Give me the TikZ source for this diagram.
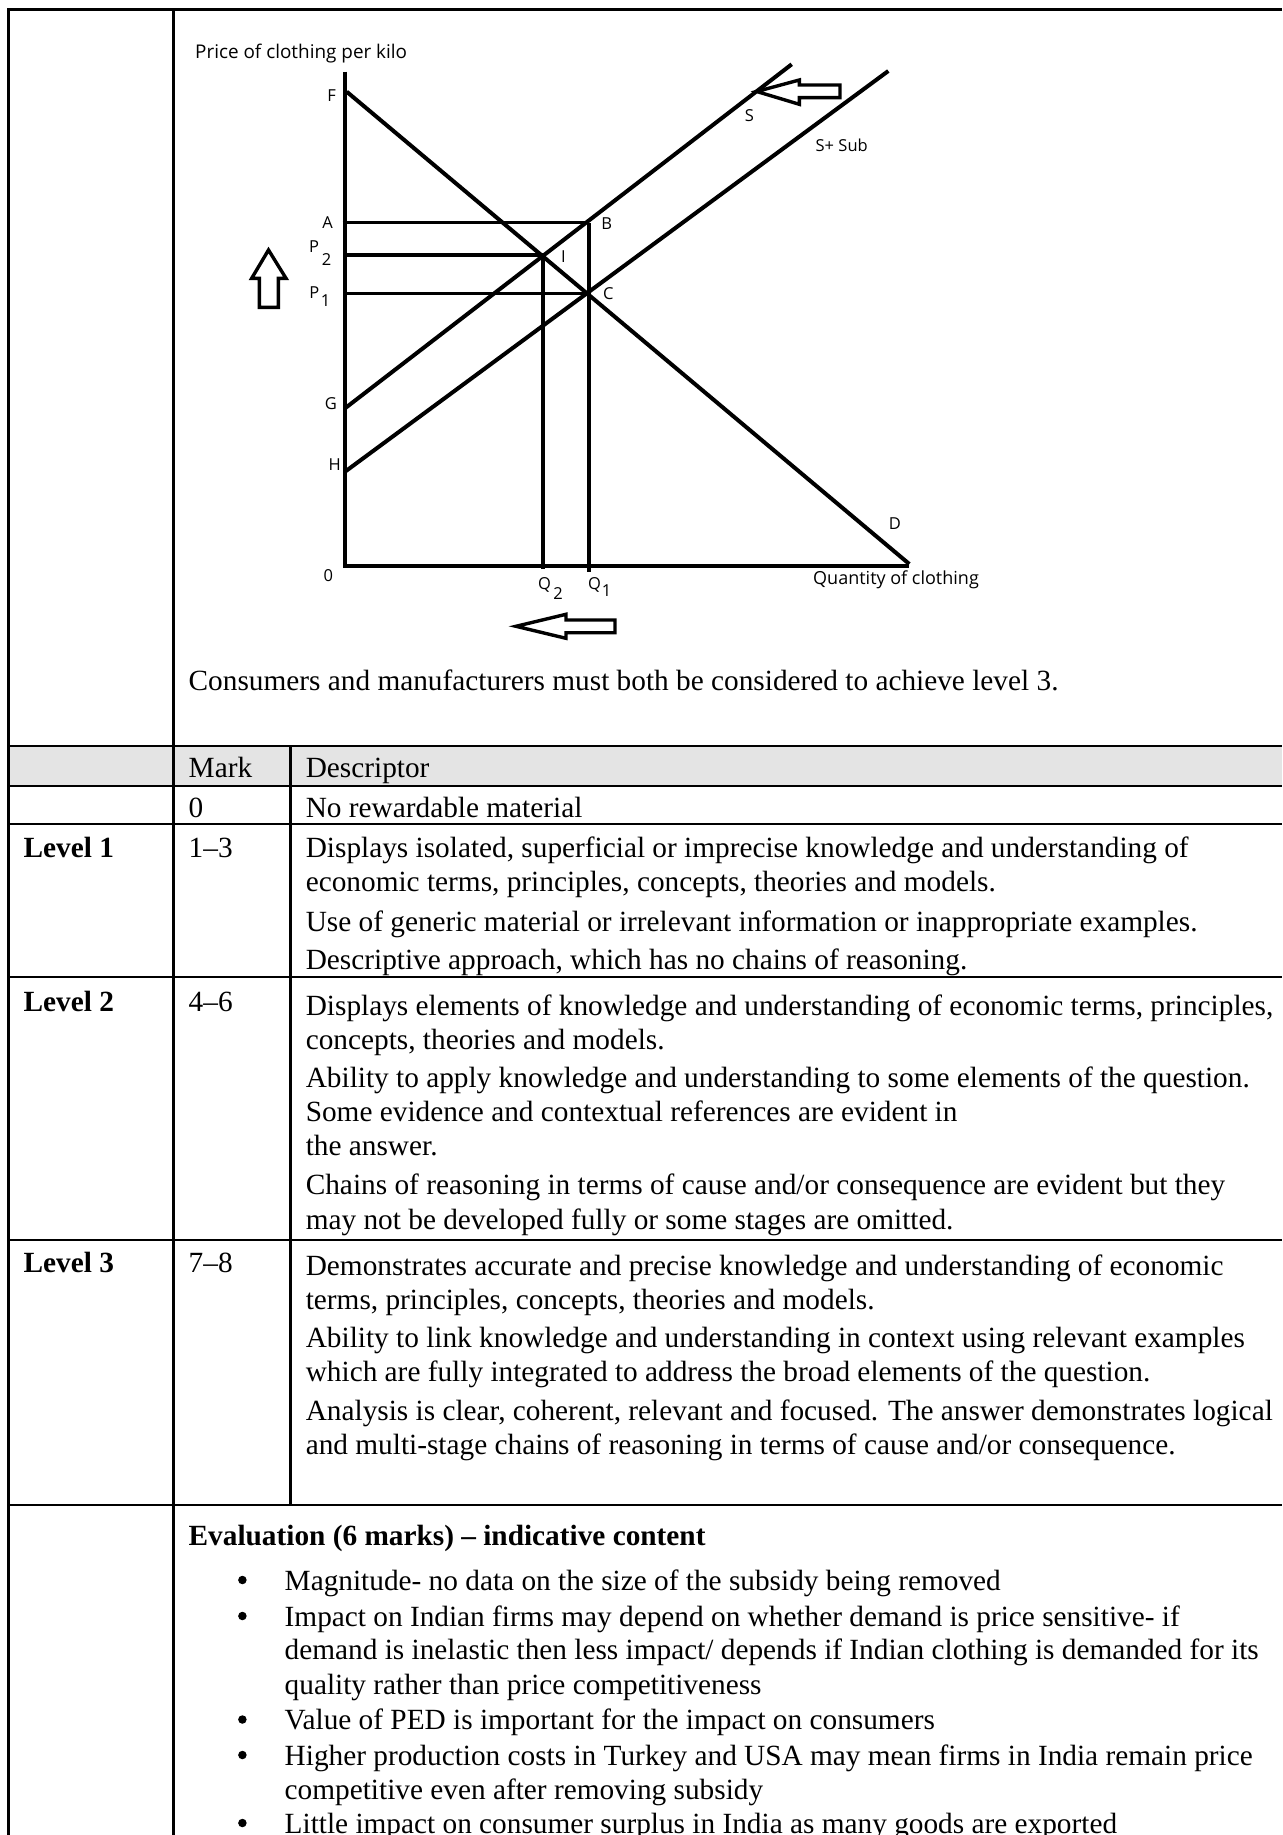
\documentclass[tikz,border=0pt]{standalone}
\usepackage{fontspec}
\setmainfont{Liberation Serif}
\newfontfamily\diagfont{Open Sans}
\definecolor{hdrgray}{HTML}{E4E4E4}
\begin{document}
\begin{tikzpicture}[x=1pt,y=-1pt,
  tabline/.style={line width=2.6pt},
  curve/.style={line width=4pt},
  thinline/.style={line width=3pt},
  blockarrow/.style={line width=3.4pt, line join=miter},
  txt/.style={anchor=base west, inner sep=0pt, font=\fontsize{29.3}{34.5}\selectfont},
  btxt/.style={txt, font=\fontsize{29.3}{34.5}\selectfont\bfseries},
  bul/.style={circle, fill=black, inner sep=0pt, minimum size=8.5pt},
  lab/.style={inner sep=0pt, font=\diagfont\fontsize{16.5}{19}\selectfont},
  axt/.style={anchor=west, inner sep=0pt, font=\diagfont\fontsize{18}{21}\selectfont}
]
\useasboundingbox (0,0) rectangle (1282,1835);
\fill[white] (0,0) rectangle (1282,1835);

% ---------- table ----------
\fill[hdrgray] (8.5,746) rectangle (1282,786);
\draw[tabline] (8.5,1835) -- (8.5,9.5) -- (1282,9.5);
\draw[tabline] (173.5,9.5) -- (173.5,1835);
\draw[tabline] (290.5,746) -- (290.5,1505);
\foreach \yy in {746,786,824,977,1240,1505}
  \draw[tabline] (8.5,\yy) -- (1282,\yy);

% ---------- diagram coordinates ----------
\coordinate (yTop) at (345,71.7);
\coordinate (O) at (345,566);
\coordinate (xEnd) at (909.3,566);
\coordinate (F) at (346.7,91.7);
\coordinate (Dend) at (909.3,564);
\coordinate (G) at (345,408.3);
\coordinate (H) at (345,471.7);
\coordinate (Stop) at (791.7,64.3);
\coordinate (SStop) at (888.3,71);
\coordinate (Ip) at (543.3,255.3);
\coordinate (Bp) at (588.5,222.7);
\coordinate (Cp) at (588.5,293.3);
\coordinate (Atick) at (342.7,222.7);
\coordinate (P2a) at (345,255.3);
\coordinate (P1a) at (345,293.3);
\coordinate (Q2b) at (543.3,568.5);
\coordinate (Q1b) at (588.5,571.7);

% axes
\draw[curve] (yTop) -- (O) -- (xEnd);
% demand
\draw[curve] (F) -- (Dend);
% supply curves
\draw[curve] (G) -- (Stop);
\draw[curve] (H) -- (SStop);
% price lines
\draw[thinline] (Atick) -- (Bp);
\draw[curve] (P2a) -- (Ip);
\draw[thinline] (P1a) -- (Cp);
% quantity lines
\draw[curve] (Ip) -- (Q2b);
\draw[curve] (Bp) -- (Q1b);

% block arrows
\draw[blockarrow] (268.5,250) -- (286,278.3) -- (278.3,278.3) -- (278.3,307.3) -- (259.3,307.3) -- (259.3,278.3) -- (251.7,278.3) -- cycle;
\draw[blockarrow] (516,626.3) -- (566,614.3) -- (566,620) -- (615,620) -- (615,632.7) -- (566,632.7) -- (566,638.3) -- cycle;
\draw[blockarrow] (756.7,91.5) -- (799.3,80) -- (799.3,85) -- (840,85) -- (840,97.7) -- (799.3,97.7) -- (799.3,104.3) -- cycle;

% diagram labels
\node[axt, font=\diagfont\fontsize{18.9}{21}\selectfont] (ytitle) at (195,53.3) {Price of clothing per kilo};
\node[axt] (xtitle) at (813,580) {Quantity of clothing};
\node[lab] (lF) at (331.7,96) {F};
\node[lab] (lA) at (327.7,222.7) {A};
\node[lab] (lP2) at (314,246.7) {P};
\node[lab] (lP2s) at (326.7,260) {2};
\node[lab] (lP1) at (314.3,292.5) {P};
\node[lab] (lP1s) at (325.7,300.5) {1};
\node[lab] (lG) at (331,403.3) {G};
\node[lab] (lH) at (334.7,465) {H};
\node[lab] (l0) at (328.3,576) {0};
\node[lab] (lI) at (563.3,256.7) {I};
\node[lab] (lB) at (606.7,223.3) {B};
\node[lab] (lC) at (608.3,293.3) {C};
\node[lab] (lD) at (895,523.3) {D};
\node[lab] (lS) at (749.3,116) {S};
\node[lab] (lSS) at (841.7,145) {S+ Sub};
\node[lab] (lQ2) at (544.5,585) {Q};
\node[lab] (lQ2s) at (558,593.5) {2};
\node[lab] (lQ1) at (594.5,585) {Q};
\node[lab] (lQ1s) at (606.7,591) {1};

% ---------- text ----------
\node[txt] (cap) at (188.5,690) {Consumers and manufacturers must both be considered to achieve level 3.};
\node[txt] (hMark) at (188.5,777) {Mark};
\node[txt] (hDesc) at (305.6,777) {Descriptor};
\node[txt] (m0) at (188.5,817) {0};
\node[txt] (d0) at (305.6,817) {No rewardable material};

\node[btxt] (lv1) at (23.4,857) {Level 1};
\node[txt] (m1) at (188.5,857) {1–3};
\node[txt] (d1a) at (305.6,857) {Displays isolated, superficial or imprecise knowledge and understanding of};
\node[txt] (d1b) at (305.6,891.5) {economic terms, principles, concepts, theories and models.};
\node[txt] (d1c) at (305.6,931) {Use of generic material or irrelevant information or inappropriate examples.};
\node[txt] (d1d) at (305.6,969.5) {Descriptive approach, which has no chains of reasoning.};

\node[btxt] (lv2) at (23.4,1011) {Level 2};
\node[txt] (m2) at (188.5,1011) {4–6};
\node[txt] (d2a) at (305.6,1015) {Displays elements of knowledge and understanding of economic terms, principles,};
\node[txt] (d2b) at (305.6,1049) {concepts, theories and models.};
\node[txt] (d2c) at (305.6,1087) {Ability to apply knowledge and understanding to some elements of the question.};
\node[txt] (d2d) at (305.6,1121) {Some evidence and contextual references are evident in};
\node[txt] (d2e) at (305.6,1155) {the answer.};
\node[txt] (d2f) at (305.6,1194.5) {Chains of reasoning in terms of cause and/or consequence are evident but they};
\node[txt] (d2g) at (305.6,1229) {may not be developed fully or some stages are omitted.};

\node[btxt] (lv3) at (23.4,1272) {Level 3};
\node[txt] (m3) at (188.5,1272) {7–8};
\node[txt] (d3a) at (305.6,1275) {Demonstrates accurate and precise knowledge and understanding of economic};
\node[txt] (d3b) at (305.6,1309) {terms, principles, concepts, theories and models.};
\node[txt] (d3c) at (305.6,1347.5) {Ability to link knowledge and understanding in context using relevant examples};
\node[txt] (d3d) at (305.6,1381.5) {which are fully integrated to address the broad elements of the question.};
\node[txt] (d3e) at (305.6,1420) {Analysis is clear, coherent, relevant and focused. The answer demonstrates logical};
\node[txt] (d3f) at (305.6,1454) {and multi-stage chains of reasoning in terms of cause and/or consequence.};

\node[btxt] (evh) at (188.5,1545) {Evaluation (6 marks) – indicative content};
\node[bul] (b1) at (242.4,1580) {};
\node[txt] (e1) at (284.5,1590) {Magnitude- no data on the size of the subsidy being removed};
\node[bul] (b2) at (242.4,1616) {};
\node[txt] (e2a) at (284.5,1626) {Impact on Indian firms may depend on whether demand is price sensitive- if};
\node[txt] (e2b) at (284.5,1659.5) {demand is inelastic then less impact/ depends if Indian clothing is demanded for its};
\node[txt] (e2c) at (284.5,1694) {quality rather than price competitiveness};
\node[bul] (b3) at (242.4,1719.5) {};
\node[txt] (e3) at (284.5,1729.5) {Value of PED is important for the impact on consumers};
\node[bul] (b4) at (242.4,1755) {};
\node[txt] (e4a) at (284.5,1765) {Higher production costs in Turkey and USA may mean firms in India remain price};
\node[txt] (e4b) at (284.5,1799) {competitive even after removing subsidy};
\node[bul] (b5) at (242.4,1823) {};
\node[txt] (e5) at (284.5,1833) {Little impact on consumer surplus in India as many goods are exported};
\end{tikzpicture}
\end{document}
